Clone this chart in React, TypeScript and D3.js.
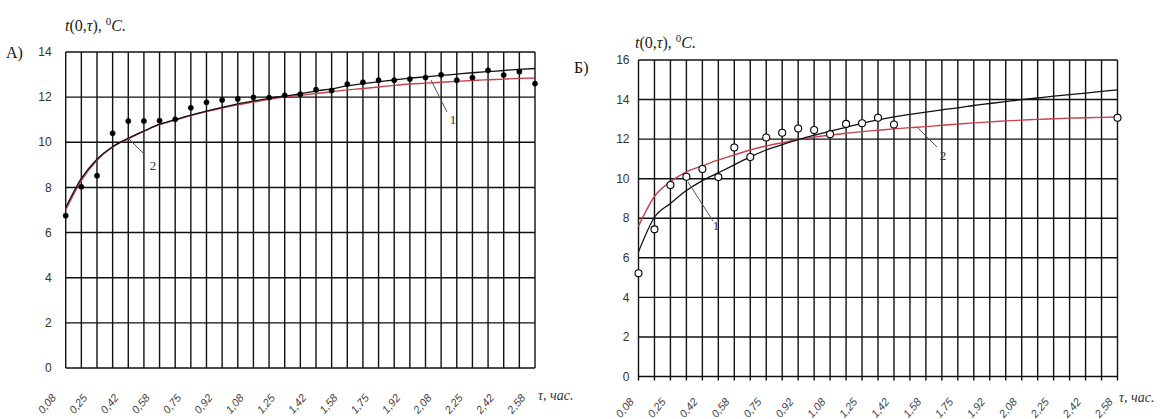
import React from "react";
import * as d3 from "d3";

// time grid, minutes (5-min steps)
const minutes = [5, 10, 15, 20, 25, 30, 35, 40, 45, 50, 55, 60, 65, 70, 75, 80, 85, 90, 95, 100, 105, 110, 115, 120, 125, 130, 135, 140, 145, 150, 155];
const tickMinutes = [5, 15, 25, 35, 45, 55, 65, 75, 85, 95, 105, 115, 125, 135, 145, 155];
const tickLabels = ["0,08", "0,25", "0,42", "0,58", "0,75", "0,92", "1,08", "1,25", "1,42", "1,58", "1,75", "1,92", "2,08", "2,25", "2,42", "2,58"];

// Panel A
const aObserved = [6.75, 8.03, 8.52, 10.4, 10.94, 10.94, 10.96, 11.02, 11.53, 11.77, 11.87, 11.92, 11.99, 11.98, 12.08, 12.13, 12.33, 12.29, 12.58, 12.66, 12.75, 12.75, 12.8, 12.87, 12.99, 12.75, 12.87, 13.19, 12.98, 13.13, 12.6];
const aCurve1 = [7.1, 8.4, 9.25, 9.8, 10.18, 10.5, 10.8, 11.0, 11.2, 11.38, 11.55, 11.7, 11.83, 11.95, 12.05, 12.15, 12.27, 12.37, 12.5, 12.6, 12.68, 12.76, 12.84, 12.9, 12.96, 13.02, 13.08, 13.13, 13.18, 13.23, 13.27];
const aCurve2 = [7.0, 8.3, 9.2, 9.8, 10.15, 10.48, 10.78, 10.98, 11.18, 11.36, 11.52, 11.66, 11.78, 11.9, 12.0, 12.08, 12.16, 12.24, 12.32, 12.38, 12.45, 12.52, 12.58, 12.62, 12.66, 12.7, 12.74, 12.77, 12.8, 12.83, 12.85];
const aYTicks = [0, 2, 4, 6, 8, 10, 12, 14];

// Panel Б
const bObsMinutes = [5, 10, 15, 20, 25, 30, 35, 40, 45, 50, 55, 60, 65, 70, 75, 80, 85, 155];
const bObserved = [5.22, 7.44, 9.68, 10.1, 10.49, 10.08, 11.58, 11.1, 12.08, 12.32, 12.54, 12.46, 12.25, 12.77, 12.8, 13.08, 12.74, 13.08];
const bCurve1 = [6.3, 8.05, 8.75, 9.4, 9.9, 10.3, 10.7, 11.1, 11.45, 11.72, 11.97, 12.2, 12.4, 12.6, 12.8, 12.97, 13.12, 13.25, 13.37, 13.48, 13.58, 13.7, 13.8, 13.9, 14.0, 14.08, 14.17, 14.25, 14.33, 14.41, 14.49];
const bCurve2 = [7.6, 9.1, 9.85, 10.35, 10.65, 10.95, 11.2, 11.45, 11.65, 11.82, 11.98, 12.1, 12.2, 12.3, 12.38, 12.45, 12.52, 12.58, 12.63, 12.7, 12.76, 12.82, 12.87, 12.92, 12.96, 13.0, 13.03, 13.06, 13.08, 13.1, 13.12];
const bYTicks = [0, 2, 4, 6, 8, 10, 12, 14, 16];

const RED = "#c9404e";
const GRID = "#111";

type PanelProps = {
  left: number; right: number; top: number; bottom: number; yMax: number;
  yTicks: number[];
  obsMin: number[]; obs: number[]; c1: number[]; c2: number[];
  openDots: boolean;
  letter: string; letterX: number; letterY: number;
  titleX: number; titleY: number;
  yLabelGap: number;
  tickDx: number; tickY: number; tickExt: number;
  unitX: number; unitY: number;
  lead1: [number, number, number, number, number, number];
  lead2: [number, number, number, number, number, number];
};

function Panel(p: PanelProps) {
  const x = d3.scaleLinear().domain([5 / 60, 155 / 60]).range([p.left, p.right]);
  const y = d3.scaleLinear().domain([0, p.yMax]).range([p.bottom, p.top]);
  const line = d3.line<number>()
    .x((_, i) => x(minutes[i] / 60))
    .y((d) => y(d))
    .curve(d3.curveMonotoneX);
  return (
    <g>
      {p.yTicks.map((t) => (
        <line key={"h" + t} x1={p.left} x2={p.right} y1={y(t)} y2={y(t)} stroke={GRID} strokeWidth={1.4} />
      ))}
      {minutes.map((m) => (
        <line key={"v" + m} x1={x(m / 60)} x2={x(m / 60)} y1={p.top} y2={p.bottom + p.tickExt} stroke={GRID} strokeWidth={1.4} />
      ))}
      {p.yTicks.map((t) => (
        <text key={"yl" + t} x={p.left - p.yLabelGap} y={y(t)} dy="0.35em" textAnchor="end"
          fontFamily="Liberation Sans, Arial, sans-serif" fontSize={12} fill="#333">{t}</text>
      ))}
      {tickMinutes.map((m, i) => {
        const gx = x(m / 60) - p.tickDx;
        return (
          <text key={"xl" + m} transform={`translate(${gx},${p.tickY}) rotate(-50)`} textAnchor="end"
            fontFamily="Liberation Sans, Arial, sans-serif" fontStyle="italic" fontSize={11} fill="#444">{tickLabels[i]}</text>
        );
      })}
      <path d={line(p.c2) || ""} fill="none" stroke={RED} strokeWidth={1.4} />
      <path d={line(p.c1) || ""} fill="none" stroke="#111" strokeWidth={1.3} />
      {p.obs.map((v, i) => (
        <circle key={"o" + i} cx={x(p.obsMin[i] / 60)} cy={y(v)} r={p.openDots ? 3.5 : 2.6}
          fill={p.openDots ? "#fff" : "#000"} stroke="#000" strokeWidth={p.openDots ? 1.1 : 0.5} />
      ))}
      <line x1={p.lead1[0]} y1={p.lead1[1]} x2={p.lead1[2]} y2={p.lead1[3]} stroke="#555" strokeWidth={1} />
      <text x={p.lead1[4]} y={p.lead1[5]} fontFamily="Liberation Serif, serif" fontSize={13} fill="#333" textAnchor="middle">1</text>
      <line x1={p.lead2[0]} y1={p.lead2[1]} x2={p.lead2[2]} y2={p.lead2[3]} stroke="#555" strokeWidth={1} />
      <text x={p.lead2[4]} y={p.lead2[5]} fontFamily="Liberation Serif, serif" fontSize={13} fill="#333" textAnchor="middle">2</text>
      <text x={p.letterX} y={p.letterY} fontFamily="Liberation Serif, serif" fontSize={16} fill="#111">{p.letter}</text>
      <text x={p.titleX} y={p.titleY} fontFamily="Liberation Serif, serif" fontSize={16} fill="#222">
        <tspan fontStyle="italic">t</tspan>
        <tspan>(0,</tspan>
        <tspan fontStyle="italic">τ</tspan>
        <tspan>), </tspan>
        <tspan fontSize={11} dy={-6}>0</tspan>
        <tspan fontStyle="italic" dy={6}>C.</tspan>
      </text>
      <text x={p.unitX} y={p.unitY} fontFamily="Liberation Serif, serif" fontStyle="italic" fontSize={14} fill="#333">τ, час.</text>
    </g>
  );
}

export default function App() {
  return (
    <svg width={1170} height={419} style={{ position: "absolute", left: 0, top: 0, background: "#fff" }}>
      <Panel left={65.7} right={535} top={52} bottom={368} yMax={14} yTicks={aYTicks}
        obsMin={minutes} obs={aObserved} c1={aCurve1} c2={aCurve2} openDots={false}
        letter="A)" letterX={6} letterY={58} titleX={65} titleY={31}
        yLabelGap={14} tickDx={9} tickY={398} tickExt={0}
        unitX={538} unitY={400}
        lead1={[431, 80, 447, 112, 453, 124]} lead2={[128, 138, 145, 155, 153, 170]} />
      <Panel left={638.5} right={1117.5} top={60} bottom={376.5} yMax={16} yTicks={bYTicks}
        obsMin={bObsMinutes} obs={bObserved} c1={bCurve1} c2={bCurve2} openDots={true}
        letter="Б)" letterX={574} letterY={73} titleX={635} titleY={48}
        yLabelGap={9} tickDx={4} tickY={402} tickExt={4}
        unitX={1119} unitY={402}
        lead1={[688, 182, 713, 221, 716, 230]} lead2={[917, 127, 937, 147, 943, 160]} />
    </svg>
  );
}
